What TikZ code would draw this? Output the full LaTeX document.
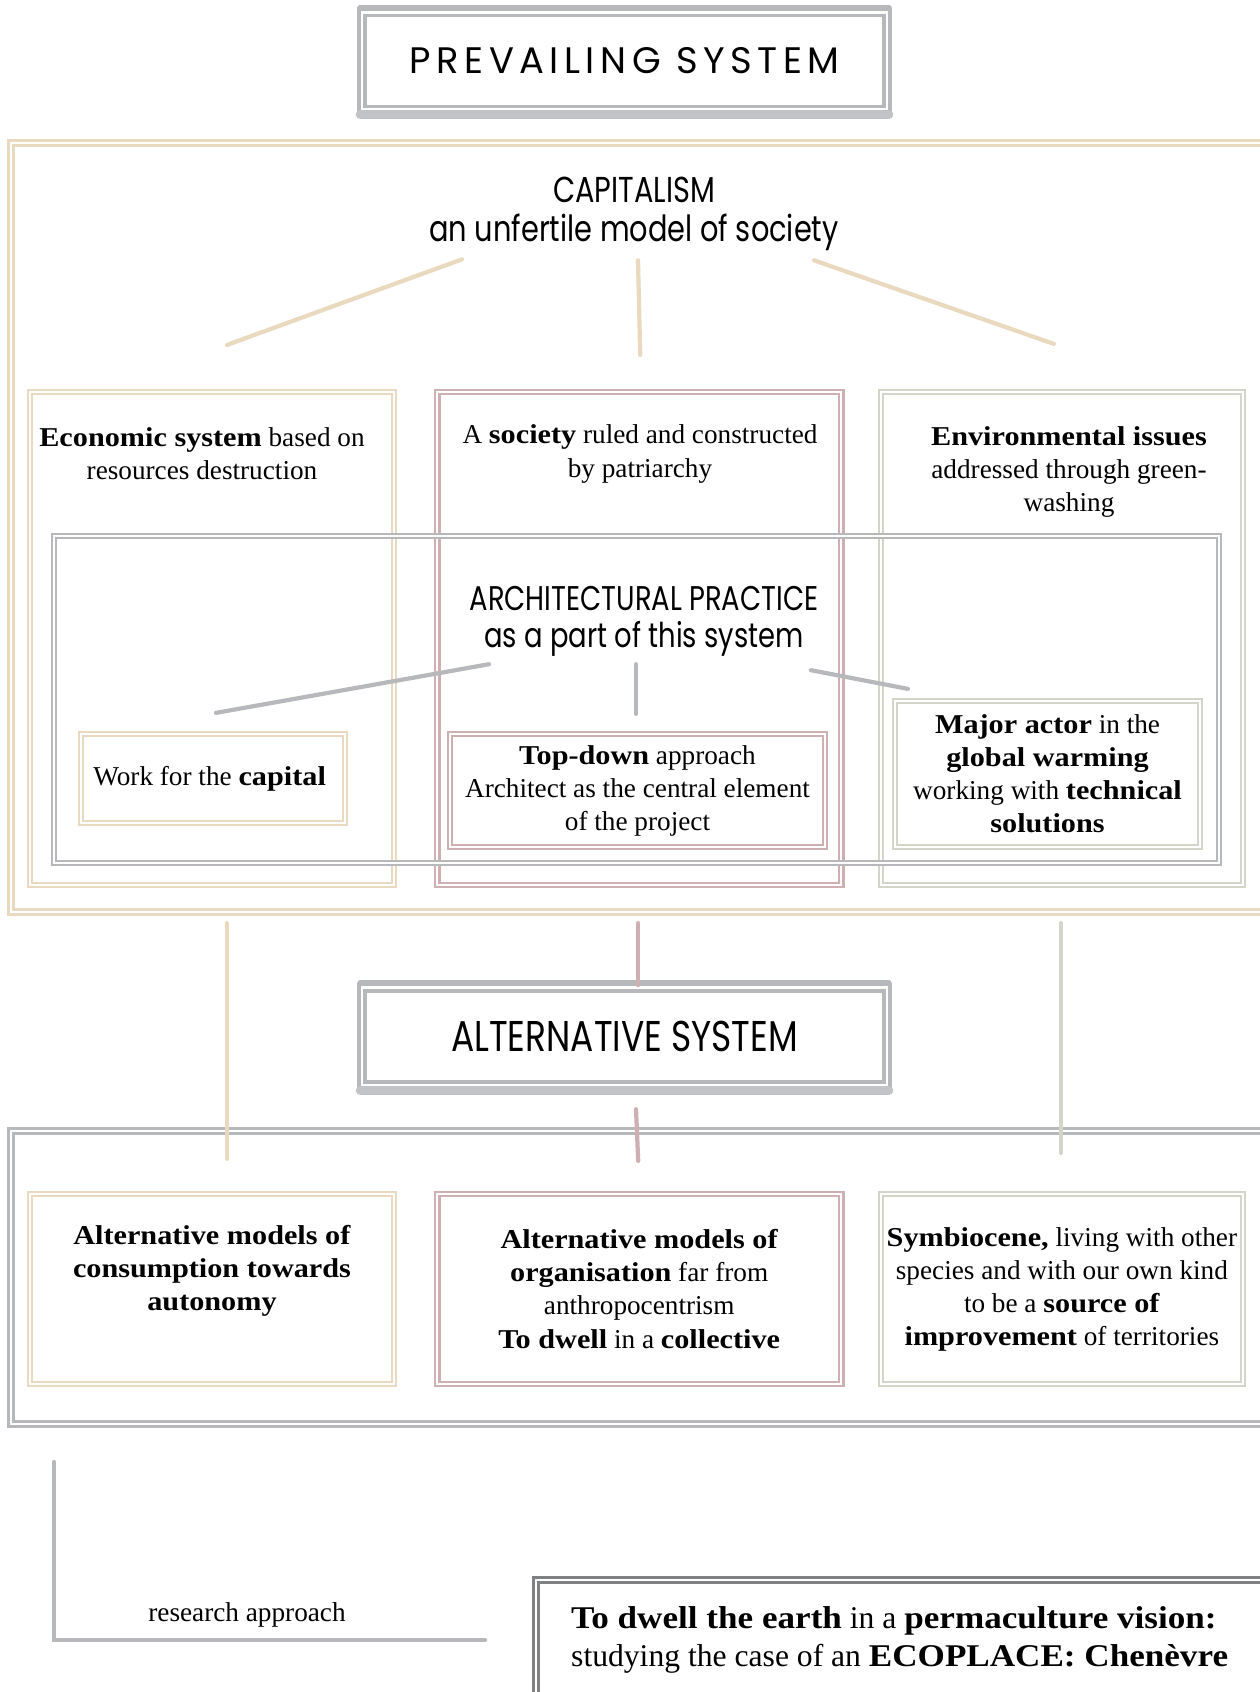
\documentclass[tikz,border=0pt]{standalone}
\usepackage{fontspec}
\setmainfont{Liberation Serif}[BoldFeatures={FakeStretch=1.11}]
\newfontfamily\spacedsans[LetterSpace=15]{Poppins}
\newfontfamily\narrowsans[FakeStretch=0.8]{Poppins}
\usetikzlibrary{positioning,calc}
\definecolor{beige}{RGB}{233, 217, 190}
\definecolor{rose}{RGB}{206, 176, 178}
\definecolor{sage}{RGB}{210, 213, 199}
\definecolor{stone}{RGB}{183, 184, 188}
\definecolor{slate}{RGB}{128, 129, 131}

\tikzset{
    brush/.style={draw=#1, line width=1.3pt, double=white, double distance=1.2pt, inner sep=0pt},
    bigbrush/.style={draw=#1, line width=2pt, double=white, double distance=0.8pt, inner sep=0pt},
    heading/.style={draw=stone, line width=2.2pt, double=white, double distance=1.5pt,
        minimum width=10.5cm, minimum height=1.95cm},
    stroke/.style={draw=#1, line width=2.4pt, line cap=round},
    txt/.style={align=center, font=\fontsize{15.5}{18.8}\selectfont}
}

\begin{document}
\begin{tikzpicture}[x=0.02cm, y=-0.02cm]
            \useasboundingbox (0,0) rectangle (1259,1692);

            \node (prev) [heading] at (624.5,61)
            {
                \fontsize{21}{24}\spacedsans PREVAILING SYSTEM
            };
            \draw[stone, line width=3pt, line cap=round] ($(prev.north west)+(0,-3)$) -- ($(prev.north east)+(0,-3)$);
            \draw[stone!85, line width=5pt, line cap=round] ($(prev.south west)+(0,3)$) -- ($(prev.south east)+(0,3)$);

            \node (sys1) [
                bigbrush=beige,
                minimum width=25.28cm,
                minimum height=15.38cm
            ] at (643,527.5) {};

            \node (cap) [align=center, font={\fontsize{20.5}{22.5}\narrowsans}] at (634,214)
            {
                CAPITALISM\\
                an unfertile model of society
            };

            \node (col1) [brush=beige, minimum width=7.28cm, minimum height=9.86cm] at (212,638.5) {};
            \node (col2) [brush=rose, minimum width=8.08cm, minimum height=9.86cm, right=0.82cm of col1] {};
            \node (col3) [brush=sage, minimum width=7.24cm, minimum height=9.86cm, right=0.75cm of col2] {};

            \node (eco) [txt] at (202,454)
            {
                \textbf{Economic system} based on\\
                resources destruction
            };
            \node (soc) [txt] at (640,454)
            {
                A \textbf{society} ruled and constructed\\
                by patriarchy
            };
            \node (env) [txt] at (1069,472)
            {
                \textbf{Environmental issues}\\
                addressed through green-\\
                washing
            };

            \node (prac) [brush=stone, minimum width=23.3cm, minimum height=6.54cm] at (636.5,699.5) {};

            \node (arch) [align=center, font={\fontsize{19.5}{21}\narrowsans}] at (644,621)
            {
                ARCHITECTURAL PRACTICE\\
                as a part of this system
            };

            \node (work) [brush=beige, txt, minimum width=5.28cm, minimum height=1.78cm] at (213,778.5)
            {
                Work for the \textbf{capital}
            };
            \node (topdown) [brush=rose, txt, minimum width=7.5cm, minimum height=2.26cm] at (637.5,790.5)
            {
                \textbf{Top-down} approach\\
                Architect as the central element\\
                of the project
            };
            \node (actor) [brush=sage, txt, minimum width=6.1cm, minimum height=2.92cm] at (1047.5,774)
            {
                \textbf{Major actor} in the\\
                \textbf{global warming}\\
                working with \textbf{technical}\\
                \textbf{solutions}
            };

            \draw[stroke=beige] ($(cap.south)+(-172,2)$) -- ($(col1.north)+(15,-46)$);
            \draw[stroke=beige] ($(cap.south)+(4,3)$) -- ($(col2.north)+(1,-36)$);
            \draw[stroke=beige] ($(cap.south)+(180,3)$) -- ($(col3.north)+(-8,-47)$);

            \draw[stroke=stone] ($(arch.south)+(-155,2)$) -- ($(work.north)+(3,-20)$);
            \draw[stroke=stone] ($(arch.south)+(-8,2)$) -- ($(topdown.north)+(-1.5,-19)$);
            \draw[stroke=stone] ($(arch.south)+(167,8)$) -- ($(actor.north west)+(14,-11)$);

            \node (alt) [heading] at (624.5,1036.5)
            {
                \fontsize{24.5}{27}\narrowsans ALTERNATIVE SYSTEM
            };
            \draw[stone, line width=3pt, line cap=round] ($(alt.north west)+(0,-3)$) -- ($(alt.north east)+(0,-3)$);
            \draw[stone!85, line width=5pt, line cap=round] ($(alt.south west)+(0,3)$) -- ($(alt.south east)+(0,3)$);

            \node (sys2) [
                bigbrush=stone,
                minimum width=25.28cm,
                minimum height=5.86cm
            ] at (643,1277.5) {};

            \node (alt1) [brush=beige, txt, minimum width=7.28cm, minimum height=3.8cm] at (212,1289)
            {
                \textbf{Alternative models of}\\
                \textbf{consumption towards}\\
                \textbf{autonomy}\\
                \strut
            };
            \node (alt2) [brush=rose, txt, minimum width=8.08cm, minimum height=3.8cm, right=0.82cm of alt1]
            {
                \textbf{Alternative models of}\\
                \textbf{organisation} far from\\
                anthropocentrism\\
                \textbf{To dwell} in a \textbf{collective}
            };
            \node (alt3) [brush=sage, txt, minimum width=7.24cm, minimum height=3.8cm, right=0.75cm of alt2]
            {
                \textbf{Symbiocene,} living with other\\
                species and with our own kind\\
                to be a \textbf{source of}\\
                \textbf{improvement} of territories
            };

            \draw[stroke=beige] ($(col1.south)+(15,37)$) -- ($(alt1.north)+(15,-34)$);
            \draw[stroke=rose] ($(col2.south)+(-1,37)$) -- ($(col2.south)+(-1,99)$);
            \draw[stroke=rose] ($(alt.south)+(11.5,22)$) -- ($(alt2.north)+(-1,-32)$);
            \draw[stroke=sage] ($(col3.south)+(-1,37)$) -- ($(alt3.north)+(-1,-40)$);

            \node (research) [txt] at (247,1615) {research approach};
            \draw[stroke=stone] (54,1462) |- (485,1640);

            \node (final) [draw=slate, line width=2pt, double=white, double distance=1pt,
                minimum width=14.78cm, minimum height=2.6cm] at (905.5,1645) {};
            \node (goal) [anchor=west, align=left, font=\fontsize{18}{21.5}\selectfont] at (565,1640)
            {
                \textbf{To dwell the earth} in a \textbf{permaculture vision:}\\
                studying the case of an \textbf{ECOPLACE: Chenèvre}
            };
        \end{tikzpicture}
\end{document}
